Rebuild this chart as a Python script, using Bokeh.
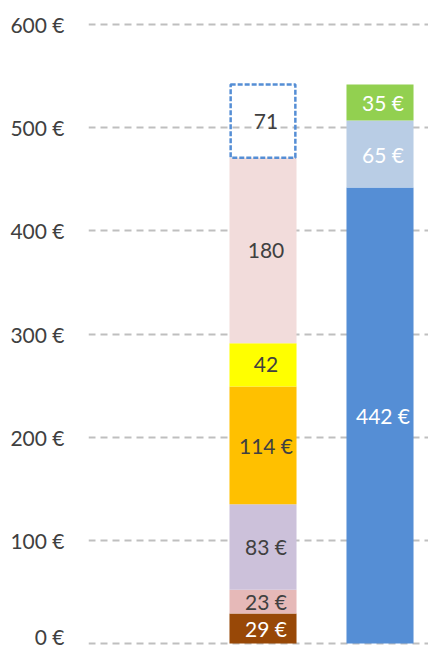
from bokeh.plotting import figure
from bokeh.models import ColumnDataSource, Range1d, FixedTicker
from bokeh.core.properties import value
from bokeh.embed import file_html
from bokeh.resources import INLINE
import numpy as np

# ---- data ----
left_values = [29, 23, 83, 114, 42, 180, 71]
left_labels = ["29 €", "23 €", "83 €", "114 €", "42", "180", "71"]
right_values = [442, 65, 35]
right_labels = ["442 €", "65 €", "35 €"]
y_ticks = [0, 100, 200, 300, 400, 500, 600]
y_tick_labels = ["0 €", "100 €", "200 €", "300 €", "400 €", "500 €", "600 €"]

# ---- styles ----
left_colors = ["#984807", "#E6B9B8", "#CCC1DA", "#FFC000", "#FFFF00", "#F2DCDB", None]
left_text_colors = ["#FFFFFF", "#404040", "#404040", "#404040", "#404040", "#404040", "#404040"]
right_colors = ["#558ED5", "#B9CDE5", "#92D050"]
right_text_colors = ["#FFFFFF", "#FFFFFF", "#FFFFFF"]
FONT = "Lato"
BAR_W = 0.573


def stack(values, labels, colors, tcolors, xpos):
    tops = np.cumsum(values)
    bottoms = tops - np.array(values)
    filled = [i for i, c in enumerate(colors) if c is not None]
    dashed = [i for i, c in enumerate(colors) if c is None]
    src_f = ColumnDataSource(dict(
        x=[xpos] * len(filled),
        bottom=[bottoms[i] for i in filled],
        top=[tops[i] for i in filled],
        color=[colors[i] for i in filled],
    ))
    src_d = ColumnDataSource(dict(
        x=[xpos] * len(dashed),
        bottom=[bottoms[i] for i in dashed],
        top=[tops[i] for i in dashed],
    ))
    src_t = ColumnDataSource(dict(
        x=[xpos] * len(values),
        y=list((tops + bottoms) / 2.0),
        text=labels,
        tcolor=tcolors,
    ))
    return src_f, src_d, src_t


p = figure(width=428, height=648, output_backend="svg", toolbar_location=None,
           x_range=Range1d(-0.4915, 2.4145), y_range=Range1d(-4, 604),
           min_border_left=88, min_border_right=0, min_border_top=20, min_border_bottom=1)
p.outline_line_color = None
p.xaxis.visible = False
p.xgrid.visible = False

p.yaxis.ticker = FixedTicker(ticks=y_ticks)
p.yaxis.major_label_overrides = {t: l for t, l in zip(y_ticks, y_tick_labels)}
p.yaxis.axis_line_color = None
p.yaxis.major_tick_line_color = None
p.yaxis.minor_tick_line_color = None
p.yaxis.major_label_text_font = FONT
p.yaxis.major_label_text_font_size = "21px"
p.yaxis.major_label_text_color = "#404040"
p.yaxis.major_label_standoff = 18

p.ygrid.ticker = FixedTicker(ticks=y_ticks)
p.ygrid.grid_line_color = "#BFBFBF"
p.ygrid.grid_line_width = 2
p.ygrid.grid_line_dash = "7 5"

for xpos, vals, labs, cols, tcols in [
    (1, left_values, left_labels, left_colors, left_text_colors),
    (2, right_values, right_labels, right_colors, right_text_colors),
]:
    sf, sd, st = stack(vals, labs, cols, tcols, xpos)
    p.vbar(x="x", bottom="bottom", top="top", width=BAR_W, source=sf,
           fill_color="color", line_color=None)
    if len(sd.data["x"]):
        p.vbar(x="x", bottom="bottom", top="top", width=BAR_W - 0.02, source=sd,
               fill_alpha=0, line_color="#558ED5", line_width=2.5, line_dash="5 2")
    p.text(x="x", y="y", text="text", source=st, text_color="tcolor",
           text_font=value(FONT), text_font_size="21px",
           text_align="center", text_baseline="middle", x_offset=3)

open("out.html", "w").write(file_html(p, INLINE))
